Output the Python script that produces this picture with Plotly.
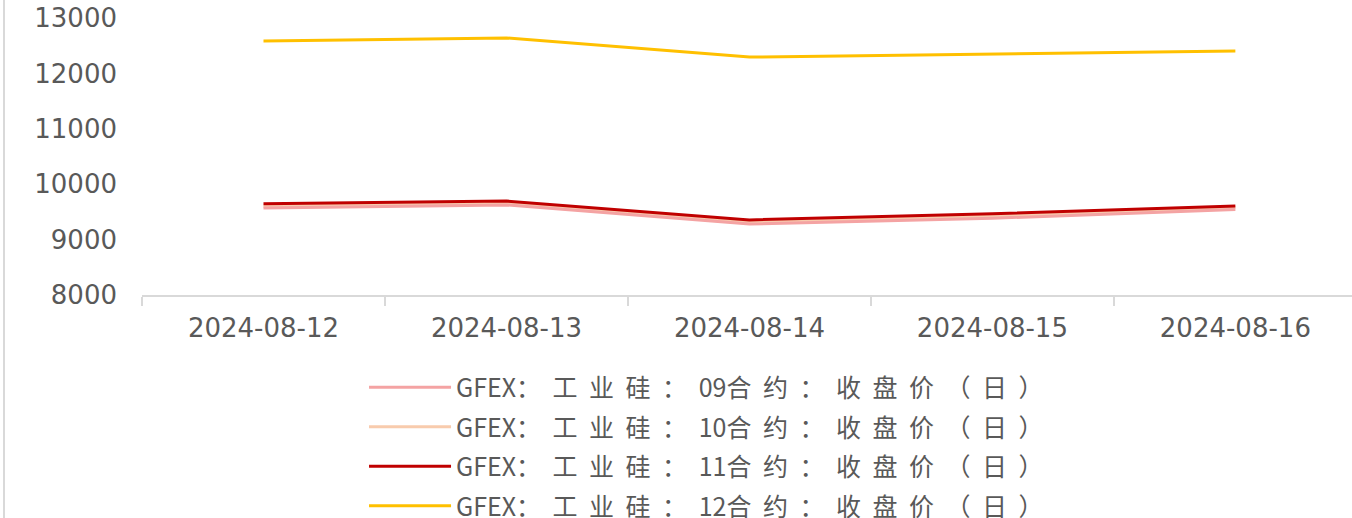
import plotly.graph_objects as go

dates = ["2024-08-12", "2024-08-13", "2024-08-14", "2024-08-15", "2024-08-16"]
contracts = ["09", "10", "11", "12"]
names = [
    "GFEX：工业硅：09合约：收盘价（日）",
    "GFEX：工业硅：10合约：收盘价（日）",
    "GFEX：工业硅：11合约：收盘价（日）",
    "GFEX：工业硅：12合约：收盘价（日）",
]
c09 = [9570, 9625, 9280, 9385, 9545]
c10 = [9600, 9655, 9310, 9420, 9575]
c11 = [9645, 9695, 9355, 9465, 9605]
c12 = [12585, 12640, 12295, 12350, 12405]
series = [c09, c10, c11, c12]
colors = ["#F4A3A3", "#F8CBAD", "#C00000", "#FFC000"]
draw_order = [1, 0, 2, 3]


def spaced(name, code):
    # widen full-width characters like the reference's legend typesetting
    head, tail = name.split(code, 1)
    pre = head[:4]
    mid = head[4:]
    sp = "<span style='letter-spacing:11.5px'>{}</span>"
    return pre + sp.format(mid) + code + sp.format(tail)


fig = go.Figure()
for i in draw_order:
    fig.add_trace(go.Scatter(
        x=dates, y=series[i], name=spaced(names[i], contracts[i]), mode="lines",
        line=dict(color=colors[i], width=3),
        legendgroup=str(i), legendrank=i + 1,
    ))

fig.update_layout(
    width=1352, height=518,
    margin=dict(l=142, r=0, t=18, b=223, autoexpand=False),
    paper_bgcolor="white", plot_bgcolor="white",
    showlegend=True,
    legend=dict(
        orientation="v", x=0.1835, xanchor="left", y=-0.251, yanchor="top",
        font=dict(family="Noto Sans CJK SC", size=25, color="#595959"),
        itemwidth=82, tracegroupgap=4, traceorder="grouped",
        bgcolor="rgba(0,0,0,0)",
    ),
    xaxis=dict(
        type="category", range=[-0.5, 4.48], automargin=False,
        showline=True, linecolor="#D9D9D9", linewidth=2,
        ticks="outside", tickson="boundaries", ticklen=9, tickcolor="#D9D9D9", tickwidth=2,
        showgrid=False, zeroline=False,
        tickfont=dict(family="DejaVu Sans", size=26, color="#595959"),
        ticklabelstandoff=9,
    ),
    yaxis=dict(
        range=[8000, 13000], dtick=1000, tick0=8000, tickformat="d", automargin=False,
        showgrid=False, zeroline=False, showline=False,
        tickfont=dict(family="DejaVu Sans", size=26, color="#595959"),
        ticklabelstandoff=24,
    ),
)
fig.add_shape(type="line", xref="paper", yref="paper",
              x0=(4 - 142) / 1210, x1=(4 - 142) / 1210,
              y0=-223 / 277, y1=1 + 18 / 277,
              line=dict(color="#D9D9D9", width=2))

fig.write_html(
    "out.html",
    config={"displayModeBar": False},
    post_script="document.body.style.margin='0';document.body.style.overflow='hidden';",
)
